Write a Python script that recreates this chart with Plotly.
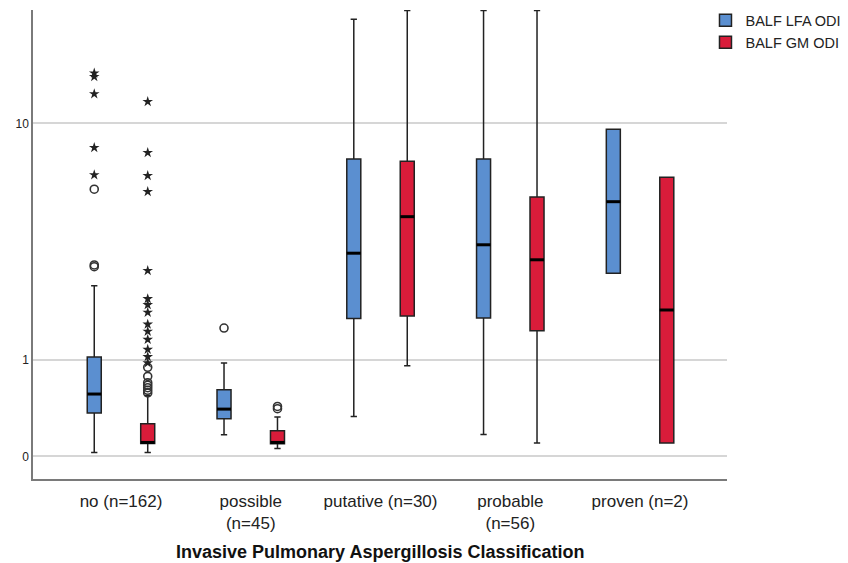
import math
import plotly.graph_objects as go

# ---- data (raw ODI values) ----
categories = ["no (n=162)", "possible<br>(n=45)", "putative (n=30)", "probable<br>(n=56)", "proven (n=2)"]
series_names = ["BALF LFA ODI", "BALF GM ODI"]

lfa_q1 = [0.366, 0.311, 1.70, 1.71, 2.74]
lfa_med = [0.567, 0.406, 3.32, 3.59, 5.26]
lfa_q3 = [1.045, 0.616, 7.51, 7.51, 9.55]
lfa_lo = [0.029, 0.169, 0.334, 0.171, 2.74]
lfa_hi = [2.415, 0.958, 22.3, 23.8, 9.55]

gm_q1 = [0.098, 0.096, 1.75, 1.47, 0.101]
gm_med = [0.106, 0.106, 4.62, 3.12, 1.87]
gm_q3 = [0.265, 0.203, 7.38, 5.48, 6.47]
gm_lo = [0.029, 0.059, 0.92, 0.101, 0.101]
gm_hi = [0.55, 0.328, 23.8, 23.8, 6.47]

# outliers (circles) and extreme values (stars): (category index, value)
lfa_circles = [(0, 5.85), (0, 2.97), (0, 2.92), (1, 1.52)]
lfa_stars = [(0, 14.8), (0, 14.4), (0, 12.6), (0, 8.24), (0, 6.59)]
gm_circles = [(0, 0.90), (0, 0.78), (0, 0.70), (0, 0.67), (0, 0.64), (0, 0.61), (0, 0.58),
              (1, 0.433), (1, 0.41)]
gm_stars = [(0, 11.86), (0, 7.91), (0, 6.55), (0, 5.73), (0, 2.81), (0, 2.11), (0, 1.98),
            (0, 1.82), (0, 1.59), (0, 1.46), (0, 1.32), (0, 1.16), (0, 1.05), (0, 0.96)]

y_ticks = [0, 1, 10]

colors = ["#5B8FD0", "#D91C3A"]


# SPSS "safe log" scale: log10(1 + v)
def t(v):
    return math.log10(1 + v)


def tl(vals):
    return [t(v) for v in vals]


offset = 0.206
bw = 0.108
FONT = "Liberation Sans, Arial, sans-serif"

fig = go.Figure()

stats = [
    (lfa_q1, lfa_med, lfa_q3, lfa_lo, lfa_hi, lfa_circles, lfa_stars),
    (gm_q1, gm_med, gm_q3, gm_lo, gm_hi, gm_circles, gm_stars),
]

for s, (q1, med, q3, lo, hi, circ, stars) in enumerate(stats):
    off = -offset if s == 0 else offset
    xs = [i + off for i in range(len(categories))]
    fig.add_trace(go.Box(
        x=xs, q1=tl(q1), median=tl(med), q3=tl(q3),
        lowerfence=tl(lo), upperfence=tl(hi),
        width=bw, whiskerwidth=0.45, boxpoints=False,
        fillcolor=colors[s], line=dict(color="#222222", width=1.5),
        name=series_names[s], showlegend=True, hoverinfo="skip",
    ))
    # thick median lines
    mx, my = [], []
    for x, m in zip(xs, med):
        mx += [x - bw / 2, x + bw / 2, None]
        my += [t(m), t(m), None]
    fig.add_trace(go.Scatter(x=mx, y=my, mode="lines",
                             line=dict(color="black", width=3),
                             showlegend=False, hoverinfo="skip"))
    fig.add_trace(go.Scatter(
        x=[c + off for c, _ in circ], y=[t(v) for _, v in circ], mode="markers",
        marker=dict(symbol="circle-open", size=8, color="#333333", line=dict(width=1.6)),
        showlegend=False, hoverinfo="skip"))
    fig.add_trace(go.Scatter(
        x=[c + off for c, _ in stars], y=[t(v) for _, v in stars], mode="markers",
        marker=dict(symbol="star", size=8, color="#222222", line=dict(width=0)),
        showlegend=False, hoverinfo="skip"))

fig.update_layout(
    width=848, height=563,
    margin=dict(l=33, r=121, t=10, b=84, autoexpand=False),
    plot_bgcolor="white", paper_bgcolor="white",
    font=dict(family=FONT, color="#222222"),
    boxmode="overlay",
    legend=dict(x=0.969, y=1.012, xanchor="left", yanchor="top",
                font=dict(size=14.5, family=FONT, color="#222222"),
                bgcolor="rgba(0,0,0,0)", tracegroupgap=0),
    xaxis=dict(range=[-0.678, 4.67], tickmode="array",
               tickvals=list(range(len(categories))), ticktext=categories,
               showgrid=False, zeroline=False, showline=True, automargin=False,
               linecolor="#7a7a7a", linewidth=1.5, ticks="", ticklabelstandoff=6,
               tickfont=dict(size=17, family=FONT, color="#222222")),
    yaxis=dict(range=[-0.0706, 1.396], tickmode="array",
               tickvals=[t(v) for v in y_ticks], ticktext=[str(v) for v in y_ticks],
               showgrid=True, gridcolor="#d6d6d6", gridwidth=1.5, automargin=False,
               zeroline=False, showline=True, linecolor="#7a7a7a", linewidth=1.5,
               ticks="", tickfont=dict(size=12, family=FONT, color="#222222")),
    annotations=[dict(text="<b>Invasive Pulmonary Aspergillosis Classification</b>",
                      xref="paper", yref="paper", x=0.5, y=0, xanchor="center",
                      yanchor="top", yshift=-61, showarrow=False,
                      font=dict(size=18, family=FONT, color="#111111"))],
)

fig.write_html("out.html", config={"displayModeBar": False},
               post_script="document.body.style.margin='0';")
